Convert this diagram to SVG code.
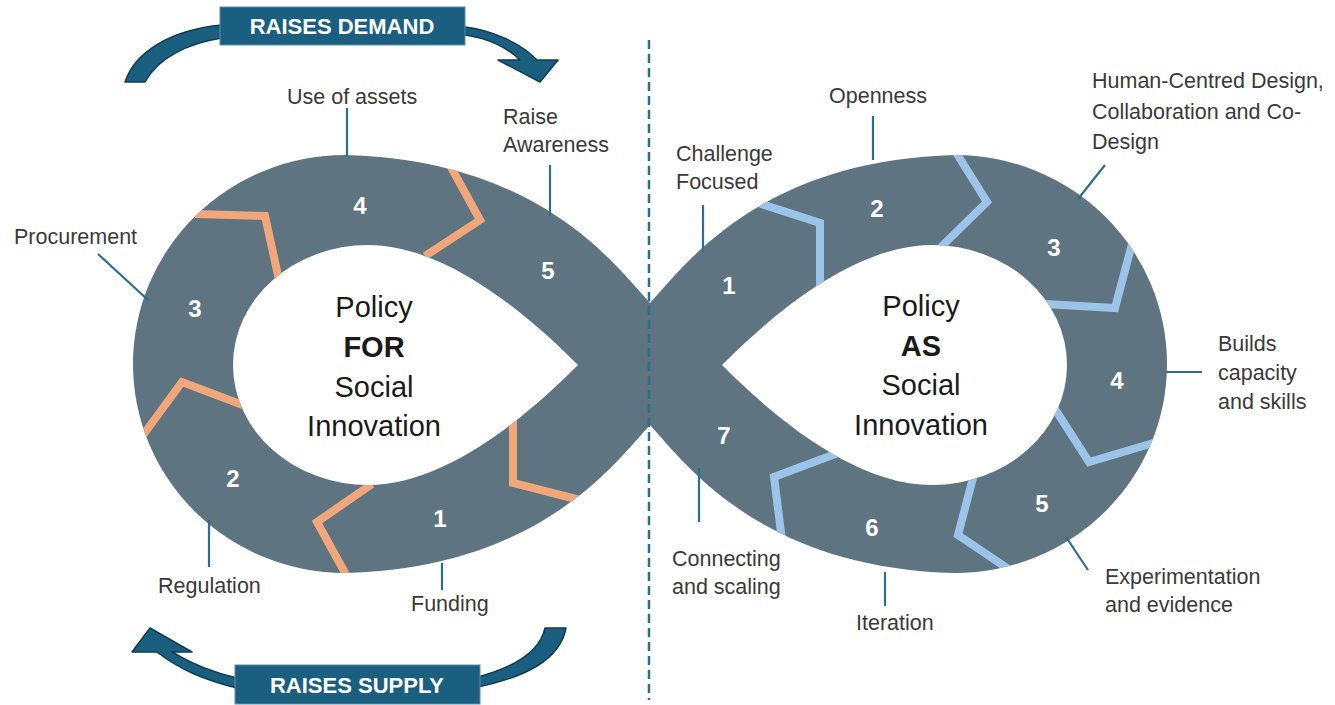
<svg xmlns="http://www.w3.org/2000/svg" width="1335" height="705" viewBox="0 0 1335 705">
<style>
.band{fill:#5e7480;fill-rule:evenodd}
.chevO{fill:none;stroke:#f2a77b;stroke-width:8;stroke-linejoin:miter;stroke-miterlimit:10}
.chevB{fill:none;stroke:#9cc4e8;stroke-width:8;stroke-linejoin:miter;stroke-miterlimit:10}
.tick{stroke:#2b6e8d;stroke-width:2.2;fill:none}
.lbl{font-family:"Liberation Sans",Arial,sans-serif;font-size:21.5px;fill:#3a3a3a}
.num{font-family:"Liberation Sans",Arial,sans-serif;font-size:24px;font-weight:bold;fill:#ffffff;text-anchor:middle}
.ctr{font-family:"Liberation Sans",Arial,sans-serif;font-size:29px;fill:#1a1a1a;text-anchor:middle}
.bold{font-weight:bold}
.arrow{fill:#1b5f80;stroke:#0f3d52;stroke-width:1.5;stroke-linejoin:round}
.box{fill:#1b5f80;stroke:#5a8fa8;stroke-width:1}
.boxt{font-family:"Liberation Sans",Arial,sans-serif;font-size:22px;font-weight:bold;fill:#ffffff;text-anchor:middle}
.dash{stroke:#2a6e90;stroke-width:2.5;stroke-dasharray:9 5;fill:none}
</style>
<defs>
<clipPath id="bandClip">
<path clip-rule="evenodd" d="M650,303 C615,265 540,160 345,155 A212,209 0 0 0 133,364 A212,209 0 0 0 345,573 C540,568 615,463 650,425 C685,463 760,568 955,573 A212,209 0 0 0 1167,364 A212,209 0 0 0 955,155 C760,160 685,265 650,303 Z M578,365 C535,322 450,245 368,245 A135,120 0 0 0 233,365 A135,120 0 0 0 368,485 C450,485 535,408 578,365 Z M722,365 C765,322 850,245 932,245 A135,120 0 0 1 1067,365 A135,120 0 0 1 932,485 C850,485 765,408 722,365 Z"/>
</clipPath>
</defs>

<g id="infinity-band">
<path class="band" d="M650,303 C615,265 540,160 345,155 A212,209 0 0 0 133,364 A212,209 0 0 0 345,573 C540,568 615,463 650,425 C685,463 760,568 955,573 A212,209 0 0 0 1167,364 A212,209 0 0 0 955,155 C760,160 685,265 650,303 Z M578,365 C535,322 450,245 368,245 A135,120 0 0 0 233,365 A135,120 0 0 0 368,485 C450,485 535,408 578,365 Z M722,365 C765,322 850,245 932,245 A135,120 0 0 1 1067,365 A135,120 0 0 1 932,485 C850,485 765,408 722,365 Z"/>
</g>

<g id="chevrons" clip-path="url(#bandClip)">
<polyline class="chevO" points="195,214 265,216 279,280"/>
<polyline class="chevO" points="446,158 480,220 425,256"/>
<polyline class="chevO" points="138,442 182,382 248,407"/>
<polyline class="chevO" points="372,484 317,522 350,582"/>
<polyline class="chevO" points="513,416 513,483 580,500"/>
<polyline class="chevB" points="755,202 820,223 820,292"/>
<polyline class="chevB" points="952,146 987,202 940,248"/>
<polyline class="chevB" points="1132,244 1115,308 1045,304"/>
<polyline class="chevB" points="1053,406 1089,462 1160,441"/>
<polyline class="chevB" points="974,474 958,535 1010,570"/>
<polyline class="chevB" points="838,453 774,477 782,540"/>
</g>

<g id="divider">
<line class="dash" x1="649" y1="40" x2="649" y2="700"/>
</g>

<g id="raises-demand">
<path class="arrow" d="M125,82 L145,82 C158,58 188,43 222,38 L222,25 C170,30 135,52 125,82 Z"/>
<path class="arrow" d="M465,27 C490,30 520,42 537,60 L558,60 L540,82 L498,60 L520,60 C508,48 488,38 465,35 Z"/>
<rect class="box" x="220" y="7" width="245" height="38"/>
<text class="boxt" x="342" y="34">RAISES DEMAND</text>
</g>

<g id="raises-supply">
<path class="arrow" d="M150,628 L132,652 L157,652 C180,670 205,680 237,688 L237,678 C210,672 190,663 172,652 L192,652 Z"/>
<path class="arrow" d="M545,628 L566,628 C560,660 525,677 478,687 L478,677 C515,667 540,652 545,628 Z"/>
<rect class="box" x="235" y="665" width="245" height="39"/>
<text class="boxt" x="357" y="693">RAISES SUPPLY</text>
</g>

<g id="connectors">
<line class="tick" x1="347" y1="108" x2="347" y2="156"/>
<line class="tick" x1="550" y1="165" x2="550" y2="216"/>
<line class="tick" x1="98" y1="254" x2="148" y2="300"/>
<line class="tick" x1="209" y1="520" x2="209" y2="567"/>
<line class="tick" x1="442" y1="563" x2="442" y2="590"/>
<line class="tick" x1="703" y1="205" x2="703" y2="252"/>
<line class="tick" x1="873" y1="116" x2="873" y2="160"/>
<line class="tick" x1="1105" y1="165" x2="1078" y2="199"/>
<line class="tick" x1="1166" y1="372" x2="1202" y2="372"/>
<line class="tick" x1="1066" y1="537" x2="1088" y2="570"/>
<line class="tick" x1="885" y1="572" x2="885" y2="606"/>
<line class="tick" x1="699" y1="468" x2="699" y2="522"/>
</g>

<g id="left-loop">
<text class="ctr" x="374" y="317">Policy</text>
<text class="ctr bold" x="374" y="357">FOR</text>
<text class="ctr" x="374" y="397">Social</text>
<text class="ctr" x="374" y="436">Innovation</text>
</g>
<g id="right-loop">
<text class="ctr" x="921" y="316">Policy</text>
<text class="ctr bold" x="921" y="356">AS</text>
<text class="ctr" x="921" y="395">Social</text>
<text class="ctr" x="921" y="435">Innovation</text>
</g>

<g id="left-steps">
<text class="num" x="440" y="527">1</text>
<text class="num" x="233" y="487">2</text>
<text class="num" x="195" y="317">3</text>
<text class="num" x="360" y="214">4</text>
<text class="num" x="548" y="279">5</text>
</g>
<g id="right-steps">
<text class="num" x="729" y="294">1</text>
<text class="num" x="877" y="217">2</text>
<text class="num" x="1054" y="256">3</text>
<text class="num" x="1117" y="389">4</text>
<text class="num" x="1042" y="512">5</text>
<text class="num" x="872" y="536">6</text>
<text class="num" x="724" y="444">7</text>
</g>

<g id="labels-for">
<text class="lbl" x="287" y="104">Use of assets</text>
<text class="lbl" x="503" y="124">Raise</text>
<text class="lbl" x="503" y="152">Awareness</text>
<text class="lbl" x="14" y="244">Procurement</text>
<text class="lbl" x="158" y="593">Regulation</text>
<text class="lbl" x="411" y="611">Funding</text>
</g>
<g id="labels-as">
<text class="lbl" x="676" y="161">Challenge</text>
<text class="lbl" x="676" y="189">Focused</text>
<text class="lbl" x="829" y="103">Openness</text>
<text class="lbl" x="1092" y="88">Human-Centred Design,</text>
<text class="lbl" x="1092" y="119">Collaboration and Co-</text>
<text class="lbl" x="1092" y="149">Design</text>
<text class="lbl" x="1218" y="351">Builds</text>
<text class="lbl" x="1218" y="380">capacity</text>
<text class="lbl" x="1218" y="409">and skills</text>
<text class="lbl" x="1105" y="584">Experimentation</text>
<text class="lbl" x="1105" y="612">and evidence</text>
<text class="lbl" x="856" y="630">Iteration</text>
<text class="lbl" x="672" y="566">Connecting</text>
<text class="lbl" x="672" y="594">and scaling</text>
</g>
</svg>
